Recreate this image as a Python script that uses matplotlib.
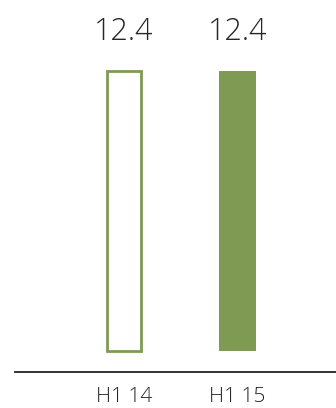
import matplotlib.pyplot as plt

categories = ["H1 14", "H1 15"]
values = [12.4, 12.4]
filled = [False, True]

green = "#7f9a52"
ink = "#262626"

plt.rcParams["font.family"] = ["Open Sans", "DejaVu Sans"]

fig = plt.figure(figsize=(3.36, 4.08), dpi=100)
ax = fig.add_axes([15 / 336, 36 / 408, 321 / 336, 372 / 408])

x = list(range(len(categories)))
for xi, v, f in zip(x, values, filled):
    if f:
        ax.bar(xi, v, width=0.32, color=green, edgecolor=green, linewidth=0)
    else:
        ax.bar(xi, v, width=0.30, facecolor="white", edgecolor=green, linewidth=2)
    ax.text(xi, v + 1.0, f"{v:.1f}", ha="center", va="bottom",
            fontsize=22, color=ink, fontweight="light")

ax.set_xlim(-0.96, 1.868)
ax.set_ylim(-0.93, 15.54)

for s in ["top", "right", "left"]:
    ax.spines[s].set_visible(False)
ax.spines["bottom"].set_color("#333333")
ax.spines["bottom"].set_linewidth(1.4)
ax.set_yticks([])
ax.set_xticks(x)
ax.set_xticklabels(categories, fontsize=15, color=ink, fontweight="light")
ax.tick_params(axis="x", length=0, pad=11)

fig.savefig("out.png", dpi=100)
